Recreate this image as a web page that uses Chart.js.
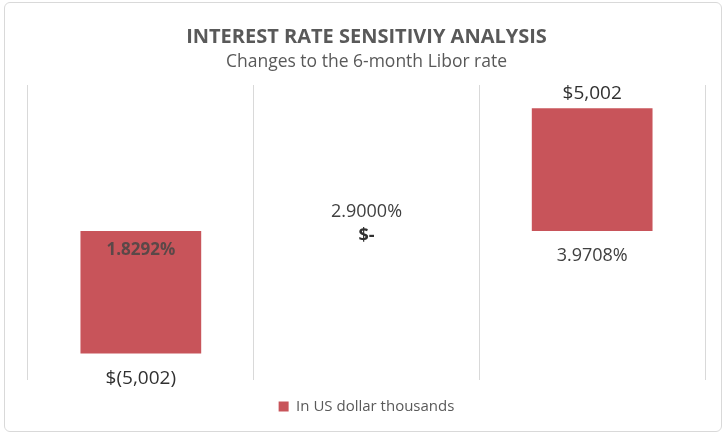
<!DOCTYPE html>
<html>
<head>
<meta charset="utf-8">
<script src="https://cdn.jsdelivr.net/npm/chart.js@4"></script>
<style>
  html, body { margin: 0; padding: 0; background: #fff; }
  #wrap { position: relative; width: 726px; height: 436px; }
  #frame { position: absolute; left: 4px; top: 2px; width: 716px; height: 428px;
           border: 1px solid #d9d9d9; border-radius: 6px; pointer-events: none; }
</style>
</head>
<body>
<div id="wrap">
  <canvas id="chart" width="726" height="436"></canvas>
  <div id="frame"></div>
</div>
<script>
// data
const rateLabels = ["1.8292%", "2.9000%", "3.9708%"];
const changeValues = [-5002, 0, 5002];
const valueLabels = ["$(5,002)", "$-", "$5,002"];
const seriesName = "In US dollar thousands";

const textColor = "#595959";
const barColor = "#C8545A";
const fontFamily = "'Open Sans', 'Noto Sans', sans-serif";

// draws the rate (category) label and the dollar value next to each bar
const barLabels = {
  id: "barLabels",
  afterDatasetsDraw(chart) {
    const ctx = chart.ctx;
    const meta = chart.getDatasetMeta(0);
    ctx.save();
    ctx.textAlign = "center";
    ctx.textBaseline = "middle";
    meta.data.forEach((bar, i) => {
      const v = changeValues[i];
      const x = bar.x;
      const zero = bar.base;
      if (v < 0) {
        ctx.font = "bold 17px " + fontFamily;
        ctx.fillStyle = "#5a4848";
        ctx.fillText(rateLabels[i], x, zero + 19);
        ctx.font = "19px " + fontFamily;
        ctx.fillStyle = "#303030";
        ctx.fillText(valueLabels[i], x, bar.y + 25);
      } else if (v > 0) {
        ctx.font = "18px " + fontFamily;
        ctx.fillStyle = "#404040";
        ctx.fillText(rateLabels[i], x, zero + 25);
        ctx.font = "19px " + fontFamily;
        ctx.fillStyle = "#303030";
        ctx.fillText(valueLabels[i], x, bar.y - 15);
      } else {
        ctx.font = "18px " + fontFamily;
        ctx.fillStyle = "#404040";
        ctx.fillText(rateLabels[i], x, zero - 19);
        ctx.font = "bold 18px " + fontFamily;
        ctx.fillStyle = "#303030";
        ctx.fillText(valueLabels[i], x, zero + 5);
      }
    });
    ctx.restore();
  }
};

new Chart(document.getElementById("chart"), {
  type: "bar",
  data: {
    labels: rateLabels,
    datasets: [{
      label: seriesName,
      data: changeValues,
      backgroundColor: barColor,
      borderColor: barColor,
      borderWidth: 0,
      categoryPercentage: 1,
      barPercentage: 0.535
    }]
  },
  options: {
    responsive: false,
    animation: false,
    layout: { padding: { left: 28, right: 21, top: 8, bottom: 12 } },
    plugins: {
      title: {
        display: true,
        text: "INTEREST RATE SENSITIVIY ANALYSIS",
        color: textColor,
        font: { family: fontFamily, size: 20, weight: "bold" },
        padding: { top: 17, bottom: 3 }
      },
      subtitle: {
        display: true,
        text: "Changes to the 6-month Libor rate",
        color: textColor,
        font: { family: fontFamily, size: 17.5 },
        padding: { bottom: 12 }
      },
      legend: {
        position: "bottom",
        labels: {
          color: textColor,
          boxWidth: 10,
          boxHeight: 10,
          font: { family: fontFamily, size: 15 },
          padding: 10
        }
      },
      tooltip: { enabled: false }
    },
    scales: {
      x: {
        ticks: { display: false },
        border: { display: false },
        grid: { color: "#d9d9d9", drawTicks: false, offset: true },
        afterFit(scale) { scale.height = 9; }
      },
      y: {
        display: false,
        min: -6080,
        max: 5950
      }
    }
  },
  plugins: [barLabels]
});
</script>
</body>
</html>
